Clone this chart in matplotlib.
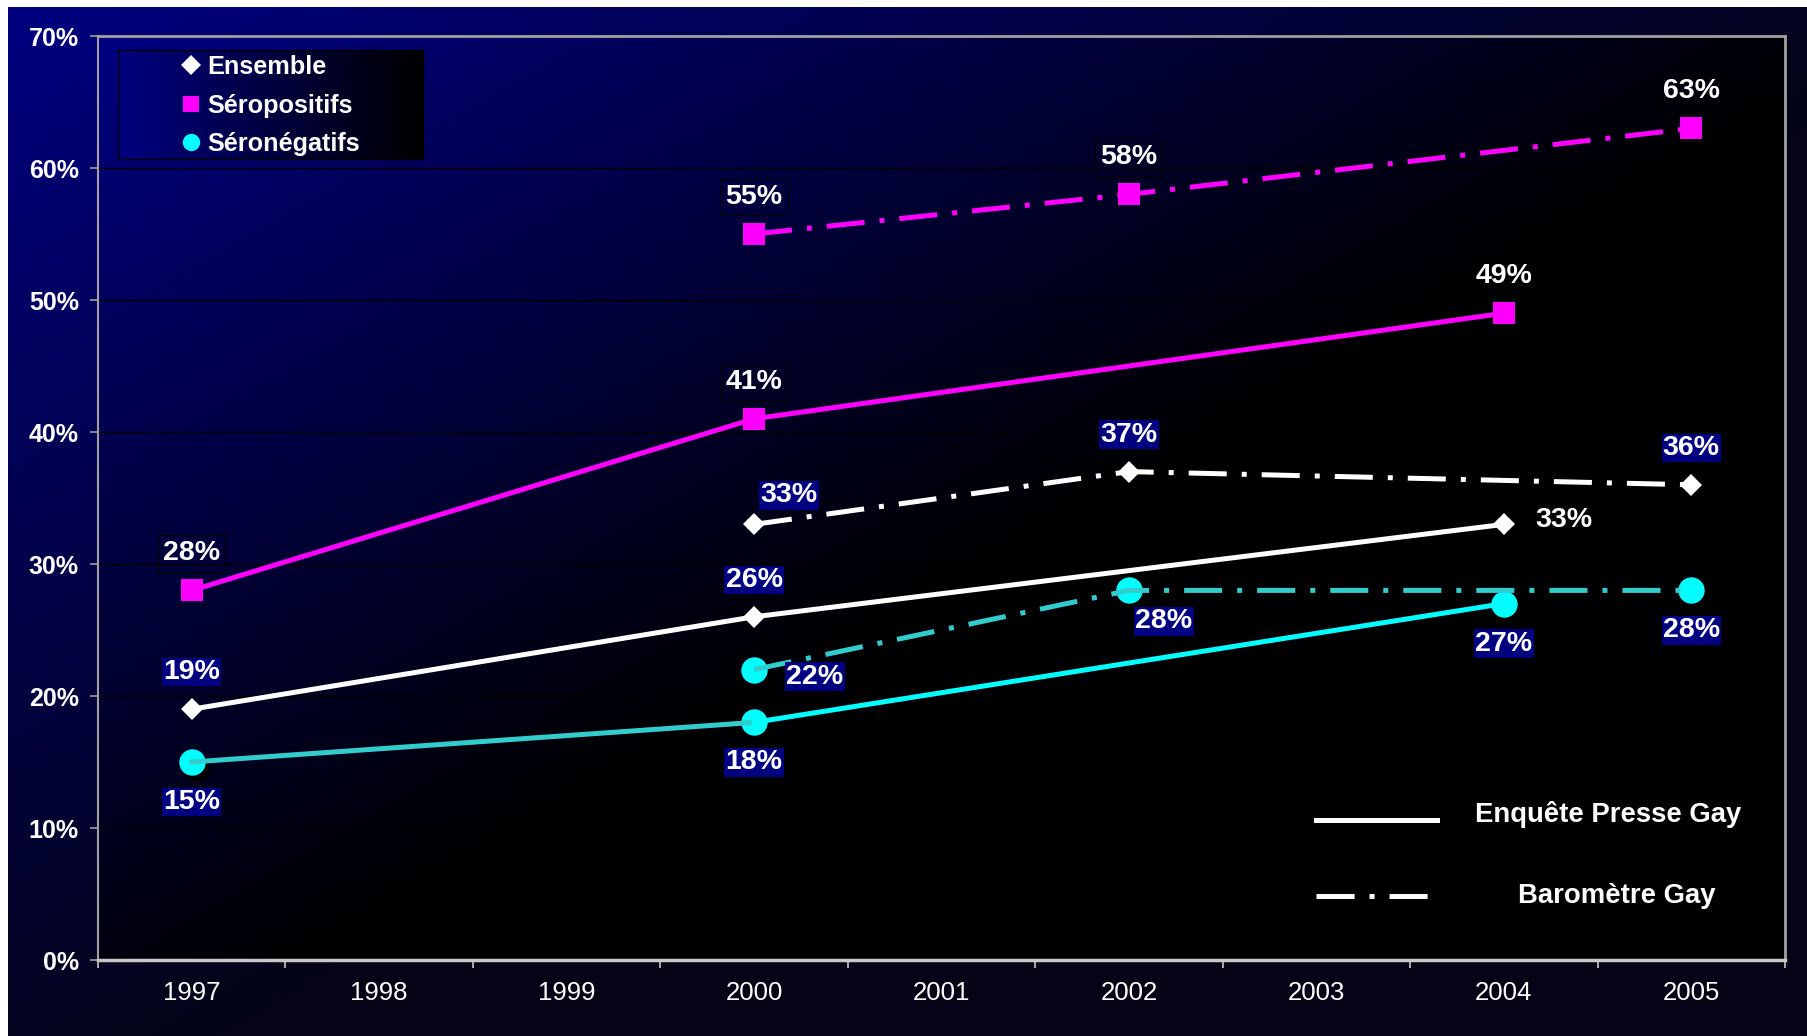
import numpy as np
import matplotlib
matplotlib.use('Agg')
import matplotlib.pyplot as plt
from matplotlib.lines import Line2D
from matplotlib.transforms import offset_copy

plt.rcParams['font.family'] = ['Liberation Sans', 'DejaVu Sans']
plt.rcParams['lines.scale_dashes'] = False

# ---------------- data ----------------
years = ['1997', '1998', '1999', '2000', '2001', '2002', '2003', '2004', '2005']
epg_years = ['1997', '2000', '2004']        # Enquête Presse Gay
bg_years = ['2000', '2002', '2005']         # Baromètre Gay
epg_ensemble = [19, 26, 33]
epg_seropos = [28, 41, 49]
epg_seroneg = [15, 18, 27]
bg_ensemble = [33, 37, 36]
bg_seropos = [55, 58, 63]
bg_seroneg = [22, 28, 28]
yticks = [0, 10, 20, 30, 40, 50, 60, 70]
legend_series = ['Ensemble', 'Séropositifs', 'Séronégatifs']
legend_sources = ['Enquête Presse Gay', 'Baromètre Gay']

# ---------------- styling ----------------
W, H = 1808, 1036
DPI = 100
WHITE = '#FFFFFF'
MAGENTA = '#FF00FF'
CYAN = '#00FFFF'
TEAL = '#33CCCC'
NAVY = '#000080'
DASHDOT = (0, (27.4, 10.8, 3.6, 10.8))
LW = 3.6
CIRCLE_MS = 19


def fx(px):
    return px / W


def fy(py):
    return 1 - py / H


def gradient(h, w, c0, c1, wx, wy):
    X, Y = np.meshgrid(np.linspace(0, 1, w), np.linspace(0, 1, h))
    t = np.clip(wx * X + wy * Y, 0, 1)[..., None]
    c0 = np.array(c0, float) / 255
    c1 = np.array(c1, float) / 255
    return c0 * (1 - t) + c1 * t


fig = plt.figure(figsize=(W / DPI, H / DPI), dpi=DPI, facecolor='white')

# figure background gradient (white border top/left)
bgax = fig.add_axes([fx(8), 0, 1 - fx(8), 1 - 7 / H], zorder=-10)
bgax.imshow(gradient(200, 400, (0, 0, 128), (4, 4, 22), 0.9, 0.9),
            aspect='auto', extent=(0, 1, 0, 1), interpolation='bilinear')
bgax.axis('off')

# main axes
ax = fig.add_axes([fx(98), fy(960), fx(1785 - 98), (960 - 36) / H], zorder=1)
ax.patch.set_visible(False)
ax.imshow(gradient(200, 400, (0, 0, 128), (0, 0, 3), 0.95, 0.9),
          aspect='auto', extent=(0, 1, 0, 1), transform=ax.transAxes,
          interpolation='bilinear', zorder=0)

xe = [years.index(y) for y in epg_years]
xb = [years.index(y) for y in bg_years]

shadow = offset_copy(ax.transData, fig=fig, x=3, y=-3.5, units='points')

# markers
ax.plot(xe, epg_seroneg, 'o', color='black', ms=CIRCLE_MS, transform=shadow, zorder=2)
ax.plot(xb, bg_seroneg, 'o', color='black', ms=CIRCLE_MS, transform=shadow, zorder=2)
ax.plot(xe, epg_seroneg, 'o', color=CYAN, ms=CIRCLE_MS, mew=0, zorder=3, ls='none')
ax.plot(xb, bg_seroneg, 'o', color=CYAN, ms=CIRCLE_MS, mew=0, zorder=3, ls='none')
ax.plot(xe, epg_seropos, 's', color=MAGENTA, ms=15.5, mew=0, zorder=3, ls='none')
ax.plot(xb, bg_seropos, 's', color=MAGENTA, ms=15.5, mew=0, zorder=3, ls='none')
ax.plot(xe, epg_ensemble, 'D', color=WHITE, ms=11.5, mew=0, zorder=3, ls='none')
ax.plot(xb, bg_ensemble, 'D', color=WHITE, ms=11.5, mew=0, zorder=3, ls='none')

# lines
ax.plot(xe, epg_ensemble, color=WHITE, lw=LW, zorder=4)
ax.plot(xe, epg_seropos, color=MAGENTA, lw=LW, zorder=4)
ax.plot(xe[:2], epg_seroneg[:2], color=TEAL, lw=LW, zorder=4)
ax.plot(xe[1:], epg_seroneg[1:], color=CYAN, lw=LW, zorder=4)
ax.plot(xb, bg_ensemble, color=WHITE, lw=LW, ls=DASHDOT, dash_capstyle='butt', zorder=4)
ax.plot(xb, bg_seropos, color=MAGENTA, lw=LW, ls=DASHDOT, dash_capstyle='butt', zorder=4)
ax.plot(xb, bg_seroneg, color=TEAL, lw=LW, ls=DASHDOT, dash_capstyle='butt', zorder=4)

# data labels
LBL_FS = 20.5
box_mag = dict(boxstyle='square,pad=0.18', fc='none', ec='black', lw=0.8)
box_navy = dict(boxstyle='square,pad=0.04', fc=NAVY, ec='none')


def labels(xs, vals, offsets, box):
    for x, v, (dx, dy) in zip(xs, vals, offsets):
        ax.annotate(f'{v}%', xy=(x, v), xytext=(dx * 0.72, dy * 0.72),
                    textcoords='offset points', ha='center', va='center',
                    fontsize=LBL_FS, fontweight='bold', color=WHITE,
                    bbox=box, zorder=6)


labels(xe, epg_seropos, [(0, 37), (0, 37), (0, 37)], box_mag)
labels(xb, bg_seropos, [(0, 37), (0, 37), (0, 37)], box_mag)
labels(xe[:2], epg_ensemble[:2], [(0, 37), (0, 37)], box_navy)
labels(xe[2:], epg_ensemble[2:], [(60, 4)], None)
labels(xb, bg_ensemble, [(35, 29), (0, 37), (0, 37)], box_navy)
labels(xe, epg_seroneg, [(0, -40), (0, -40), (0, -40)], box_navy)
labels(xb, bg_seroneg, [(61, -7), (35, -31), (0, -40)], box_navy)

# axes formatting
ax.set_xlim(-0.5, len(years) - 0.5)
ax.set_ylim(0, 70)
ax.set_yticks(yticks)
ax.set_yticklabels([f'{v}%' for v in yticks], fontweight='bold')
ax.set_xticks(range(len(years)))
ax.set_xticklabels(years)
ax.set_xticks(np.arange(-0.5, len(years)), minor=True)
ax.tick_params(axis='y', which='major', direction='out', length=5.8, width=1.2,
               color='#a0a0a0', labelcolor=WHITE, labelsize=18, pad=8)
ax.tick_params(axis='x', which='major', length=0, labelcolor=WHITE,
               labelsize=18.5, pad=15)
ax.tick_params(axis='x', which='minor', direction='out', length=5.5, width=1.2,
               color='#c8c8c8')
ax.yaxis.grid(True, color='black', lw=1.0, zorder=1)
ax.set_axisbelow(True)
for side, col, lw in [('left', '#a0a0a0', 1.5), ('bottom', '#c8c8c8', 2.5),
                      ('top', '#a0a0a0', 2.0), ('right', '#a0a0a0', 2.0)]:
    ax.spines[side].set_color(col)
    ax.spines[side].set_linewidth(lw)

# legend 1 (series) with gradient background
lax = fig.add_axes([fx(118), fy(159), fx(305), 109 / H], zorder=5)
lax.imshow(gradient(50, 200, (0, 0, 128), (0, 0, 0), 1.0, 0.0),
           aspect='auto', extent=(0, 1, 0, 1), interpolation='bilinear')
lax.set_xticks([])
lax.set_yticks([])
for s in lax.spines.values():
    s.set_color('black')
    s.set_linewidth(1)
handles = [Line2D([], [], ls='none', marker='D', color=WHITE, ms=10, mew=0),
           Line2D([], [], ls='none', marker='s', color=MAGENTA, ms=12, mew=0),
           Line2D([], [], ls='none', marker='o', color=CYAN, ms=12.5, mew=0)]
leg = lax.legend(handles, legend_series, loc='center', frameon=False,
                 prop=dict(size=18.2, weight='bold'), labelcolor=WHITE,
                 handlelength=0.8, handletextpad=0.22, labelspacing=0.58,
                 borderpad=0, bbox_to_anchor=(0.5, 0.49))

# legend 2 (sources) drawn on figure
fig.add_artist(Line2D([fx(1316), fx(1437)], [fy(820), fy(820)],
                      color=WHITE, lw=LW, transform=fig.transFigure))
fig.add_artist(Line2D([fx(1316), fx(1431)], [fy(896), fy(896)],
                      color=WHITE, lw=LW, ls=DASHDOT, dash_capstyle='butt',
                      transform=fig.transFigure))
fig.text(fx(1608), fy(815), legend_sources[0], ha='center', va='center',
         fontsize=19.8, fontweight='bold', color=WHITE)
fig.text(fx(1617), fy(896), legend_sources[1], ha='center', va='center',
         fontsize=19.8, fontweight='bold', color=WHITE)

fig.savefig('out.png', dpi=DPI, facecolor='white')
